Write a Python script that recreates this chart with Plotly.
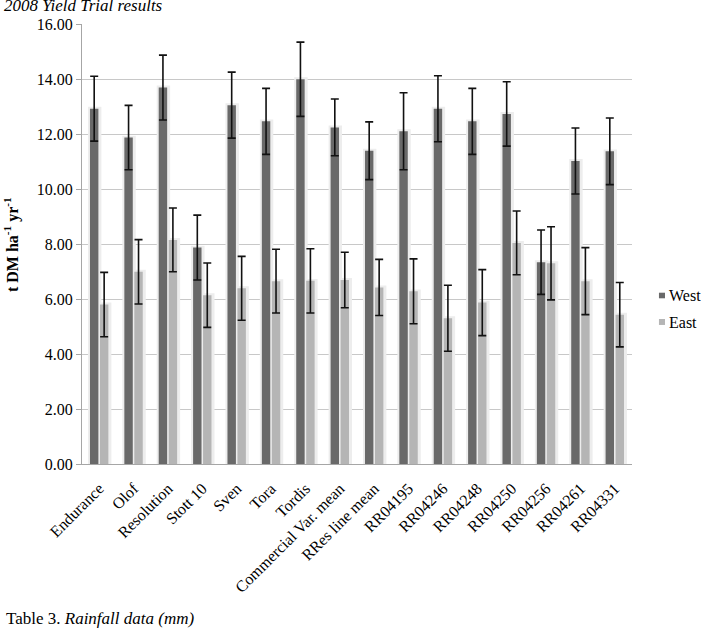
import plotly.graph_objects as go

categories = ["Endurance", "Olof", "Resolution", "Stott 10", "Sven", "Tora", "Tordis",
              "Commercial Var. mean", "RRes line mean", "RR04195", "RR04246", "RR04248",
              "RR04250", "RR04256", "RR04261", "RR04331"]
west = [12.92, 11.87, 13.69, 7.87, 13.05, 12.46, 13.99, 12.24, 11.39, 12.10, 12.92, 12.46,
        12.73, 7.34, 11.02, 11.37]
west_err = [1.18, 1.17, 1.18, 1.18, 1.20, 1.20, 1.35, 1.03, 1.05, 1.40, 1.20, 1.20,
            1.17, 1.17, 1.20, 1.21]
east = [5.80, 6.99, 8.15, 6.14, 6.39, 6.65, 6.66, 6.69, 6.42, 6.28, 5.30, 5.87,
        8.04, 7.30, 6.65, 5.43]
east_err = [1.17, 1.17, 1.16, 1.17, 1.16, 1.16, 1.17, 1.01, 1.02, 1.18, 1.20, 1.20,
            1.16, 1.33, 1.22, 1.17]
y_ticks = [0, 2, 4, 6, 8, 10, 12, 14, 16]
series_names = ["West", "East"]
series_colors = ["#696969", "#b5b5b5"]

serif = "Liberation Serif, Times New Roman, serif"

bar_w = 0.245
offsets = [-0.268, 0.022]
px = 1 / 34.3  # one pixel in category units

fig = go.Figure()
# soft shadows behind the bars
for vals, off in zip([west, east], offsets):
    fig.add_trace(go.Bar(
        x=categories, y=[v + 0.07 for v in vals], width=bar_w + 5 * px, offset=off - 2 * px,
        marker_color="#ededed", marker_line_width=0, showlegend=False, hoverinfo="skip",
    ))
for name, vals, errs, col, off in zip(series_names, [west, east], [west_err, east_err],
                                      series_colors, offsets):
    fig.add_trace(go.Bar(
        name=name, x=categories, y=vals, width=bar_w, offset=off,
        marker_color=col, marker_line_width=0,
        error_y=dict(type="data", array=errs, color="#111111", thickness=1.6, width=4),
        showlegend=False,
    ))

fig.update_layout(
    width=701, height=638,
    margin=dict(l=82, r=69, t=24, b=174),
    paper_bgcolor="white", plot_bgcolor="white",
    barmode="overlay",
    font=dict(family=serif, size=16, color="#000000"),
    showlegend=False,
    xaxis=dict(tickangle=-45, showline=True, linecolor="#a6a6a6", linewidth=1,
               ticks="", ticklabelstandoff=8, tickfont=dict(family=serif, size=16)),
    yaxis=dict(range=[0, 16], tickvals=y_ticks,
               ticktext=[f"{v:.2f}" for v in y_ticks],
               showgrid=True, gridcolor="#c8c8c8", gridwidth=1,
               showline=True, linecolor="#a6a6a6", linewidth=1,
               ticks="outside", ticklen=5, tickcolor="#a6a6a6",
               tickfont=dict(family=serif, size=16), zeroline=False),
)

# legend drawn manually (square + label) so it does not shrink the plot area
legend_y = [(0.3893, 0.3766, 0.383), (0.3295, 0.316, 0.3227)]
for name, col, (y1, y0, yc) in zip(series_names, series_colors, legend_y):
    fig.add_shape(type="rect", xref="paper", yref="paper", x0=1.049, x1=1.06,
                  y0=y0, y1=y1, fillcolor=col, line_width=0)
    fig.add_annotation(text=name, xref="paper", yref="paper", x=1.064, y=yc,
                       xanchor="left", yanchor="middle", showarrow=False,
                       font=dict(family=serif, size=16, color="#000000"))

fig.add_annotation(text="<b>t DM ha<sup>-1</sup> yr<sup>-1</sup></b>", textangle=-90,
                   xref="paper", yref="paper", x=-0.127, y=0.498,
                   xanchor="center", yanchor="middle", showarrow=False,
                   font=dict(family=serif, size=16, color="#000000"))
fig.add_annotation(text="<i>2008 Yield Trial results</i>",
                   xref="paper", yref="paper", x=-0.1455, y=1.043,
                   xanchor="left", yanchor="middle", showarrow=False,
                   font=dict(family=serif, size=17, color="#000000"))
fig.add_annotation(text="Table 3. <i>Rainfall data (mm)</i>",
                   xref="paper", yref="paper", x=-0.142, y=-0.352,
                   xanchor="left", yanchor="middle", showarrow=False,
                   font=dict(family=serif, size=17, color="#000000"))

fig.write_html("out.html")
